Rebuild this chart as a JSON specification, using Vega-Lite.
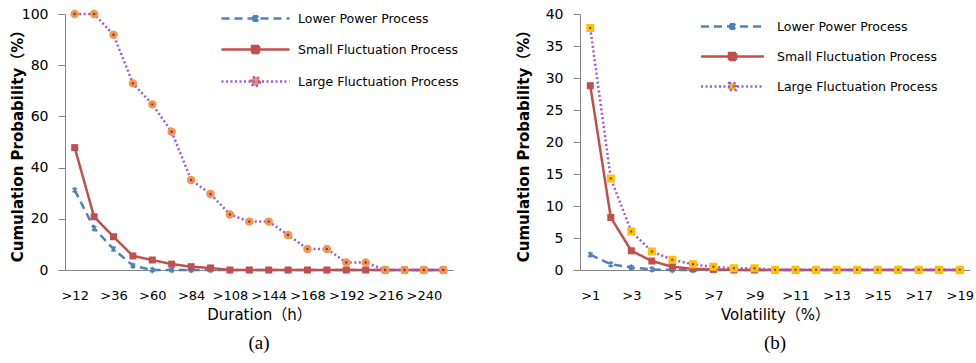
{
  "$schema": "https://vega.github.io/schema/vega-lite/v6.json",
  "padding": {"left": 10, "top": 5, "right": 2, "bottom": 2},
  "background": "white",
  "config": {
    "font": "'DejaVu Sans', 'Noto Sans CJK SC'",
    "view": {"stroke": null},
    "axis": {"grid": false, "domainColor": "#868686", "tickColor": "#868686", "labelColor": "#000000", "titleColor": "#000000", "labelFont": "'DejaVu Sans', 'Noto Sans CJK SC'", "titleFont": "'DejaVu Sans', 'Noto Sans CJK SC'"},
    "legend": {"labelFont": "'DejaVu Sans', 'Noto Sans CJK SC'", "labelFontSize": 12.5, "labelColor": "#000000", "padding": 0, "labelLimit": 300}
  },
  "resolve": {"scale": {"color": "independent", "strokeDash": "independent"}, "legend": {"color": "independent", "strokeDash": "independent"}},
  "datasets": {
    "a": [
      {"cat": ">12", "series": "Lower Power Process", "p": 31.2},
      {"cat": ">24", "series": "Lower Power Process", "p": 16.3},
      {"cat": ">36", "series": "Lower Power Process", "p": 8.2},
      {"cat": ">48", "series": "Lower Power Process", "p": 1.7},
      {"cat": ">60", "series": "Lower Power Process", "p": 0},
      {"cat": ">72", "series": "Lower Power Process", "p": 0},
      {"cat": ">84", "series": "Lower Power Process", "p": 0},
      {"cat": ">96", "series": "Lower Power Process", "p": 0},
      {"cat": ">108", "series": "Lower Power Process", "p": 0},
      {"cat": ">120", "series": "Lower Power Process", "p": 0},
      {"cat": ">144", "series": "Lower Power Process", "p": 0},
      {"cat": ">156", "series": "Lower Power Process", "p": 0},
      {"cat": ">168", "series": "Lower Power Process", "p": 0},
      {"cat": ">180", "series": "Lower Power Process", "p": 0},
      {"cat": ">192", "series": "Lower Power Process", "p": 0},
      {"cat": ">204", "series": "Lower Power Process", "p": 0},
      {"cat": ">216", "series": "Lower Power Process", "p": 0},
      {"cat": ">228", "series": "Lower Power Process", "p": 0},
      {"cat": ">240", "series": "Lower Power Process", "p": 0},
      {"cat": ">252", "series": "Lower Power Process", "p": 0},
      {"cat": ">12", "series": "Small Fluctuation Process", "p": 47.8},
      {"cat": ">24", "series": "Small Fluctuation Process", "p": 20.8},
      {"cat": ">36", "series": "Small Fluctuation Process", "p": 13.0},
      {"cat": ">48", "series": "Small Fluctuation Process", "p": 5.5},
      {"cat": ">60", "series": "Small Fluctuation Process", "p": 3.9},
      {"cat": ">72", "series": "Small Fluctuation Process", "p": 2.3},
      {"cat": ">84", "series": "Small Fluctuation Process", "p": 1.3},
      {"cat": ">96", "series": "Small Fluctuation Process", "p": 0.8},
      {"cat": ">108", "series": "Small Fluctuation Process", "p": 0},
      {"cat": ">120", "series": "Small Fluctuation Process", "p": 0},
      {"cat": ">144", "series": "Small Fluctuation Process", "p": 0},
      {"cat": ">156", "series": "Small Fluctuation Process", "p": 0},
      {"cat": ">168", "series": "Small Fluctuation Process", "p": 0},
      {"cat": ">180", "series": "Small Fluctuation Process", "p": 0},
      {"cat": ">192", "series": "Small Fluctuation Process", "p": 0},
      {"cat": ">204", "series": "Small Fluctuation Process", "p": 0},
      {"cat": ">216", "series": "Small Fluctuation Process", "p": 0},
      {"cat": ">228", "series": "Small Fluctuation Process", "p": 0},
      {"cat": ">240", "series": "Small Fluctuation Process", "p": 0},
      {"cat": ">252", "series": "Small Fluctuation Process", "p": 0},
      {"cat": ">12", "series": "Large Fluctuation Process", "p": 100},
      {"cat": ">24", "series": "Large Fluctuation Process", "p": 100},
      {"cat": ">36", "series": "Large Fluctuation Process", "p": 91.9},
      {"cat": ">48", "series": "Large Fluctuation Process", "p": 72.9},
      {"cat": ">60", "series": "Large Fluctuation Process", "p": 64.7},
      {"cat": ">72", "series": "Large Fluctuation Process", "p": 54.0},
      {"cat": ">84", "series": "Large Fluctuation Process", "p": 35.2},
      {"cat": ">96", "series": "Large Fluctuation Process", "p": 29.7},
      {"cat": ">108", "series": "Large Fluctuation Process", "p": 21.7},
      {"cat": ">120", "series": "Large Fluctuation Process", "p": 18.9},
      {"cat": ">144", "series": "Large Fluctuation Process", "p": 18.9},
      {"cat": ">156", "series": "Large Fluctuation Process", "p": 13.7},
      {"cat": ">168", "series": "Large Fluctuation Process", "p": 8.2},
      {"cat": ">180", "series": "Large Fluctuation Process", "p": 8.2},
      {"cat": ">192", "series": "Large Fluctuation Process", "p": 2.9},
      {"cat": ">204", "series": "Large Fluctuation Process", "p": 2.9},
      {"cat": ">216", "series": "Large Fluctuation Process", "p": 0},
      {"cat": ">228", "series": "Large Fluctuation Process", "p": 0},
      {"cat": ">240", "series": "Large Fluctuation Process", "p": 0},
      {"cat": ">252", "series": "Large Fluctuation Process", "p": 0}
    ],
    "b": [
      {"cat": ">1", "series": "Lower Power Process", "p": 2.4},
      {"cat": ">2", "series": "Lower Power Process", "p": 0.9},
      {"cat": ">3", "series": "Lower Power Process", "p": 0.4},
      {"cat": ">4", "series": "Lower Power Process", "p": 0.1},
      {"cat": ">5", "series": "Lower Power Process", "p": 0},
      {"cat": ">6", "series": "Lower Power Process", "p": 0},
      {"cat": ">7", "series": "Lower Power Process", "p": 0},
      {"cat": ">8", "series": "Lower Power Process", "p": 0},
      {"cat": ">9", "series": "Lower Power Process", "p": 0},
      {"cat": ">10", "series": "Lower Power Process", "p": 0},
      {"cat": ">11", "series": "Lower Power Process", "p": 0},
      {"cat": ">12", "series": "Lower Power Process", "p": 0},
      {"cat": ">13", "series": "Lower Power Process", "p": 0},
      {"cat": ">14", "series": "Lower Power Process", "p": 0},
      {"cat": ">15", "series": "Lower Power Process", "p": 0},
      {"cat": ">16", "series": "Lower Power Process", "p": 0},
      {"cat": ">17", "series": "Lower Power Process", "p": 0},
      {"cat": ">18", "series": "Lower Power Process", "p": 0},
      {"cat": ">19", "series": "Lower Power Process", "p": 0},
      {"cat": ">1", "series": "Small Fluctuation Process", "p": 28.8},
      {"cat": ">2", "series": "Small Fluctuation Process", "p": 8.2},
      {"cat": ">3", "series": "Small Fluctuation Process", "p": 3.0},
      {"cat": ">4", "series": "Small Fluctuation Process", "p": 1.4},
      {"cat": ">5", "series": "Small Fluctuation Process", "p": 0.5},
      {"cat": ">6", "series": "Small Fluctuation Process", "p": 0.2},
      {"cat": ">7", "series": "Small Fluctuation Process", "p": 0.1},
      {"cat": ">8", "series": "Small Fluctuation Process", "p": 0},
      {"cat": ">9", "series": "Small Fluctuation Process", "p": 0},
      {"cat": ">10", "series": "Small Fluctuation Process", "p": 0},
      {"cat": ">11", "series": "Small Fluctuation Process", "p": 0},
      {"cat": ">12", "series": "Small Fluctuation Process", "p": 0},
      {"cat": ">13", "series": "Small Fluctuation Process", "p": 0},
      {"cat": ">14", "series": "Small Fluctuation Process", "p": 0},
      {"cat": ">15", "series": "Small Fluctuation Process", "p": 0},
      {"cat": ">16", "series": "Small Fluctuation Process", "p": 0},
      {"cat": ">17", "series": "Small Fluctuation Process", "p": 0},
      {"cat": ">18", "series": "Small Fluctuation Process", "p": 0},
      {"cat": ">19", "series": "Small Fluctuation Process", "p": 0},
      {"cat": ">1", "series": "Large Fluctuation Process", "p": 37.8},
      {"cat": ">2", "series": "Large Fluctuation Process", "p": 14.3},
      {"cat": ">3", "series": "Large Fluctuation Process", "p": 6.0},
      {"cat": ">4", "series": "Large Fluctuation Process", "p": 2.9},
      {"cat": ">5", "series": "Large Fluctuation Process", "p": 1.6},
      {"cat": ">6", "series": "Large Fluctuation Process", "p": 0.9},
      {"cat": ">7", "series": "Large Fluctuation Process", "p": 0.5},
      {"cat": ">8", "series": "Large Fluctuation Process", "p": 0.26},
      {"cat": ">9", "series": "Large Fluctuation Process", "p": 0.26},
      {"cat": ">10", "series": "Large Fluctuation Process", "p": 0.05},
      {"cat": ">11", "series": "Large Fluctuation Process", "p": 0.05},
      {"cat": ">12", "series": "Large Fluctuation Process", "p": 0.05},
      {"cat": ">13", "series": "Large Fluctuation Process", "p": 0.05},
      {"cat": ">14", "series": "Large Fluctuation Process", "p": 0.05},
      {"cat": ">15", "series": "Large Fluctuation Process", "p": 0.05},
      {"cat": ">16", "series": "Large Fluctuation Process", "p": 0.05},
      {"cat": ">17", "series": "Large Fluctuation Process", "p": 0.05},
      {"cat": ">18", "series": "Large Fluctuation Process", "p": 0.05},
      {"cat": ">19", "series": "Large Fluctuation Process", "p": 0.05}
    ]
  },
  "hconcat": [
    {
      "width": 388,
      "height": 256,
      "data": {"name": "a"},
      "title": {"text": "(a)", "orient": "bottom", "frame": "group", "font": "Liberation Serif", "fontSize": 19, "fontWeight": "normal", "color": "#000000", "offset": 12},
      "encoding": {
        "x": {"field": "cat", "type": "ordinal", "sort": null,
          "scale": {"type": "point", "padding": 0.5, "domain": [">12",">24",">36",">48",">60",">72",">84",">96",">108",">120",">144",">156",">168",">180",">192",">204",">216",">228",">240",">252"]},
          "axis": {"values": [">12",">36",">60",">84",">108",">144",">168",">192",">216",">240"], "ticks": false, "labelAngle": 0, "labelPadding": 19, "labelFontSize": 13, "labelOverlap": false, "title": "Duration（h）", "titleFontSize": 15, "titleFontWeight": "normal", "titlePadding": 5}},
        "y": {"field": "p", "type": "quantitative", "scale": {"domain": [0, 100], "nice": false},
          "axis": {"values": [0, 20, 40, 60, 80, 100], "tickSize": 7, "labelPadding": 10, "labelFontSize": 14, "title": "Cumulation Probability（%）", "titleFontSize": 15, "titleFontWeight": "bold", "titlePadding": -4}}
      },
      "layer": [
        {
          "mark": {"type": "line", "strokeWidth": 2.5},
          "encoding": {
            "color": {"field": "series", "type": "nominal", "sort": null,
              "scale": {"domain": ["Lower Power Process", "Small Fluctuation Process", "Large Fluctuation Process"], "range": ["#4F81BD", "#C0504D", "#9B59D6"]},
              "legend": {"title": null, "orient": "none", "legendX": 184, "legendY": -2, "symbolType": "stroke", "symbolSize": 100, "symbolStrokeWidth": 2.5, "labelOffset": 36, "rowPadding": 14, "labelFontSize": 12.5, "labelLimit": 300,
                "encode": {"symbols": {"update": {
                  "shape": {"signal": "datum.value === 'Lower Power Process' ? 'M-6.8,0H6.8M-0.55,-0.55L0.55,0.55M-0.55,0.55L0.55,-0.55M0,-0.7V0.7' : datum.value === 'Small Fluctuation Process' ? 'M-6.8,0H6.8M-0.7,-0.7H0.7V0.7H-0.7Z' : 'M-6.8,0H6.8M0.9,0A0.9,0.9 0 1 1 -0.9,0A0.9,0.9 0 1 1 0.9,0Z'"},
                  "fill": {"signal": "datum.value === 'Lower Power Process' ? 'transparent' : datum.value === 'Small Fluctuation Process' ? '#C0504D' : '#F79646'"}
                }}}}},
            "strokeDash": {"field": "series", "type": "nominal", "sort": null,
              "scale": {"domain": ["Lower Power Process", "Small Fluctuation Process", "Large Fluctuation Process"], "range": [[8, 5], [1, 0], [2, 2.5]]}}
          }
        },
        {
          "transform": [{"filter": "datum.series === 'Lower Power Process'"}],
          "mark": {"type": "point", "shape": "M-0.7,-0.7L0.7,0.7M-0.7,0.7L0.7,-0.7M0,-1L0,1", "size": 40, "stroke": "#4F81BD", "strokeWidth": 1.5, "filled": false, "opacity": 1}
        },
        {
          "transform": [{"filter": "datum.series === 'Small Fluctuation Process'"}],
          "mark": {"type": "point", "shape": "square", "size": 49, "fill": "#C0504D", "filled": true, "opacity": 1, "strokeWidth": 0}
        },
        {
          "transform": [{"filter": "datum.series === 'Large Fluctuation Process'"}],
          "mark": {"type": "point", "shape": "circle", "size": 30, "fill": "#7030A0", "stroke": "#F79646", "strokeWidth": 3, "filled": true, "opacity": 1}
        }
      ]
    },
    {
      "width": 390,
      "height": 256,
      "data": {"name": "b"},
      "title": {"text": "(b)", "orient": "bottom", "frame": "group", "font": "Liberation Serif", "fontSize": 19, "fontWeight": "normal", "color": "#000000", "offset": 12},
      "encoding": {
        "x": {"field": "cat", "type": "ordinal", "sort": null,
          "scale": {"type": "point", "padding": 0.5, "domain": [">1",">2",">3",">4",">5",">6",">7",">8",">9",">10",">11",">12",">13",">14",">15",">16",">17",">18",">19"]},
          "axis": {"values": [">1",">3",">5",">7",">9",">11",">13",">15",">17",">19"], "ticks": false, "labelAngle": 0, "labelPadding": 19, "labelFontSize": 13, "labelOverlap": false, "title": "Volatility（%）", "titleFontSize": 15, "titleFontWeight": "normal", "titlePadding": 5}},
        "y": {"field": "p", "type": "quantitative", "scale": {"domain": [0, 40], "nice": false},
          "axis": {"values": [0, 5, 10, 15, 20, 25, 30, 35, 40], "tickSize": 7, "labelPadding": 10, "labelFontSize": 14, "title": "Cumulation Probability（%）", "titleFontSize": 15, "titleFontWeight": "bold", "titlePadding": 14}}
      },
      "layer": [
        {
          "mark": {"type": "line", "strokeWidth": 2.5},
          "encoding": {
            "color": {"field": "series", "type": "nominal", "sort": null,
              "scale": {"domain": ["Lower Power Process", "Small Fluctuation Process", "Large Fluctuation Process"], "range": ["#4F81BD", "#C0504D", "#9B59D6"]},
              "legend": {"title": null, "orient": "none", "legendX": 146, "legendY": 6, "symbolType": "stroke", "symbolSize": 100, "symbolStrokeWidth": 2.5, "labelOffset": 38, "rowPadding": 13, "labelFontSize": 12.5, "labelLimit": 300,
                "encode": {"symbols": {"update": {
                  "shape": {"signal": "datum.value === 'Lower Power Process' ? 'M-6.3,0H6.3M-0.55,-0.55L0.55,0.55M-0.55,0.55L0.55,-0.55M0,-0.7V0.7' : 'M-6.3,0H6.3M-0.7,-0.7H0.7V0.7H-0.7Z'"},
                  "fill": {"signal": "datum.value === 'Lower Power Process' ? 'transparent' : datum.value === 'Small Fluctuation Process' ? '#C0504D' : '#FFC000'"}
                }}}}},
            "strokeDash": {"field": "series", "type": "nominal", "sort": null,
              "scale": {"domain": ["Lower Power Process", "Small Fluctuation Process", "Large Fluctuation Process"], "range": [[8, 5], [1, 0], [2, 2.5]]}}
          }
        },
        {
          "transform": [{"filter": "datum.series === 'Lower Power Process'"}],
          "mark": {"type": "point", "shape": "M-0.7,-0.7L0.7,0.7M-0.7,0.7L0.7,-0.7M0,-1L0,1", "size": 40, "stroke": "#4F81BD", "strokeWidth": 1.5, "filled": false, "opacity": 1}
        },
        {
          "transform": [{"filter": "datum.series === 'Small Fluctuation Process'"}],
          "mark": {"type": "point", "shape": "square", "size": 49, "fill": "#C0504D", "filled": true, "opacity": 1, "strokeWidth": 0}
        },
        {
          "transform": [{"filter": "datum.series === 'Large Fluctuation Process'"}],
          "mark": {"type": "point", "shape": "square", "size": 25, "fill": "#7030A0", "stroke": "#FFC000", "strokeWidth": 3, "filled": true, "opacity": 1}
        }
      ]
    }
  ],
  "spacing": 57
}
